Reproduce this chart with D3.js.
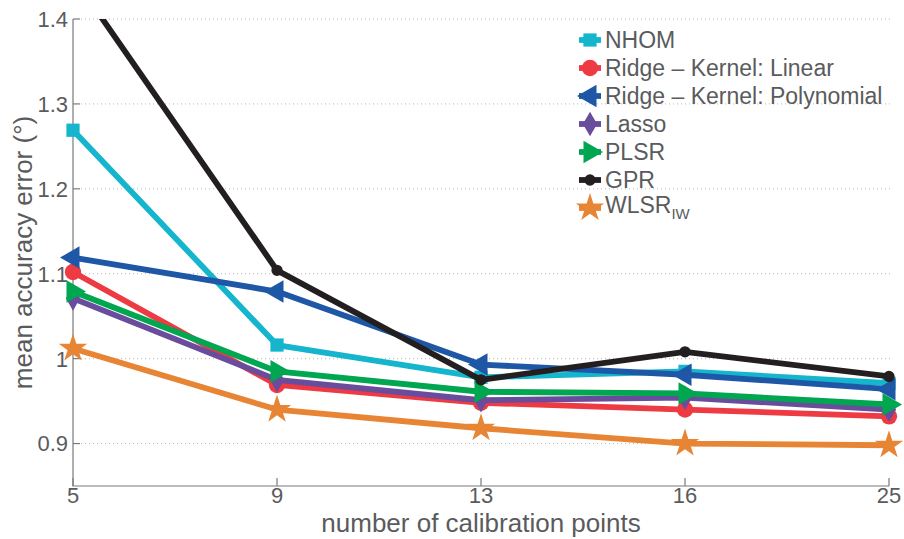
<!DOCTYPE html>
<html>
<head>
<meta charset="utf-8">
<script src="https://cdn.jsdelivr.net/npm/d3@7"></script>
<style>
  body { margin: 0; background: #fff; }
  svg { font-family: "Liberation Sans", Arial, Helvetica, sans-serif; }
  .tick-label { fill: #5a5b5d; font-size: 22px; }
  .axis-title { fill: #5a5b5d; font-size: 26px; }
  .legend-text { fill: #5a5b5d; font-size: 23px; }
  .grid-line { stroke: #b8b8b8; stroke-width: 1; stroke-dasharray: 1,3; }
  .axis-line { stroke: #7a7a7a; stroke-width: 1.2; fill: none; }
</style>
</head>
<body>
<div id="chart"></div>
<script>
// calibration point counts (categorical x axis)
const xLabels = ["5", "9", "13", "16", "25"];
const yTicks = [0.9, 1, 1.1, 1.2, 1.3, 1.4];

// mean accuracy error per method
const nhom        = [1.269, 1.016, 0.978, 0.985, 0.971];
const ridgeLinear = [1.102, 0.969, 0.948, 0.940, 0.932];
const ridgePoly   = [1.119, 1.079, 0.993, 0.981, 0.964];
const lasso       = [1.071, 0.975, 0.951, 0.954, 0.940];
const plsr        = [1.079, 0.985, 0.961, 0.959, 0.946];
const gpr         = [1.450, 1.104, 0.975, 1.008, 0.979];
const wlsr        = [1.012, 0.940, 0.918, 0.900, 0.898];

const seriesNames = ["NHOM", "Ridge \u2013 Kernel: Linear", "Ridge \u2013 Kernel: Polynomial", "Lasso", "PLSR", "GPR", "WLSR"];

const width = 904, height = 539;
const margin = { top: 19, right: 15, bottom: 53, left: 73 };

const series = [
    { name: seriesNames[0], values: nhom,        color: "#14b5cd", symbol: d3.symbolSquare,   size: 175, rotate: 0 },
    { name: seriesNames[1], values: ridgeLinear, color: "#ee3a42", symbol: d3.symbolCircle,   size: 210, rotate: 0 },
    { name: seriesNames[2], values: ridgePoly,   color: "#1f57a7", symbol: d3.symbolTriangle, size: 220, rotate: -90 },
    { name: seriesNames[3], values: lasso,       color: "#6a4c9d", symbol: d3.symbolDiamond,  size: 175, rotate: 0 },
    { name: seriesNames[4], values: plsr,        color: "#00a650", symbol: d3.symbolTriangle, size: 220, rotate: 90 },
    { name: seriesNames[5], values: gpr,         color: "#231f20", symbol: d3.symbolCircle,   size: 100, rotate: 0 },
    { name: seriesNames[6], values: wlsr,        color: "#e78534", symbol: d3.symbolStar,     size: 250, rotate: 0 }
];

const svg = d3.select("#chart").append("svg")
    .attr("width", width)
    .attr("height", height);

const x = d3.scalePoint()
    .domain(xLabels)
    .range([margin.left, width - margin.right])
    .padding(0);

const y = d3.scaleLinear()
    .domain([0.85, 1.4])
    .range([height - margin.bottom, margin.top]);

svg.append("defs").append("clipPath")
    .attr("id", "clip")
    .append("rect")
    .attr("x", 0)
    .attr("y", margin.top)
    .attr("width", width)
    .attr("height", height - margin.top);

// grid
svg.append("g").selectAll("line")
    .data(yTicks)
    .enter().append("line")
    .attr("class", "grid-line")
    .attr("x1", margin.left + 8)
    .attr("x2", width - margin.right + 3)
    .attr("y1", d => y(d))
    .attr("y2", d => y(d));

// axes
const yBottom = y.range()[0];
svg.append("path")
    .attr("class", "axis-line")
    .attr("d", "M" + margin.left + "," + margin.top + "V" + yBottom + "H" + (width - margin.right));

svg.append("g").selectAll("line")
    .data(yTicks)
    .enter().append("line")
    .attr("class", "axis-line")
    .attr("x1", margin.left)
    .attr("x2", margin.left + 7)
    .attr("y1", d => y(d))
    .attr("y2", d => y(d));

svg.append("g").selectAll("line")
    .data(xLabels)
    .enter().append("line")
    .attr("class", "axis-line")
    .attr("x1", d => x(d))
    .attr("x2", d => x(d))
    .attr("y1", yBottom)
    .attr("y2", yBottom - 8);

svg.append("g").selectAll("text")
    .data(yTicks)
    .enter().append("text")
    .attr("class", "tick-label")
    .attr("x", margin.left - 5)
    .attr("y", d => y(d))
    .attr("dy", "0.36em")
    .attr("text-anchor", "end")
    .text(d => String(d));

svg.append("g").selectAll("text")
    .data(xLabels)
    .enter().append("text")
    .attr("class", "tick-label")
    .attr("x", d => x(d))
    .attr("y", yBottom + 17)
    .attr("text-anchor", "middle")
    .text(d => d);

svg.append("text")
    .attr("class", "axis-title")
    .attr("x", (x.range()[0] + x.range()[1]) / 2)
    .attr("y", 532)
    .attr("text-anchor", "middle")
    .text("number of calibration points");

svg.append("text")
    .attr("class", "axis-title")
    .attr("text-anchor", "middle")
    .attr("transform", "translate(32," + (margin.top + yBottom) / 2 + ") rotate(-90)")
    .text("mean accuracy error (\u00b0)");

// lines + markers
const line = d3.line()
    .x((d, i) => x(xLabels[i]))
    .y(d => y(d));

const plot = svg.append("g").attr("clip-path", "url(#clip)");

series.forEach(s => {
    const g = plot.append("g");
    g.append("path")
        .attr("d", line(s.values))
        .attr("fill", "none")
        .attr("stroke", s.color)
        .attr("stroke-width", 5.8)
        .attr("stroke-linejoin", "round");
    g.selectAll("path.marker")
        .data(s.values)
        .enter().append("path")
        .attr("class", "marker")
        .attr("d", d3.symbol().type(s.symbol).size(s.size))
        .attr("transform", (d, i) => "translate(" + x(xLabels[i]) + "," + y(d) + ") rotate(" + s.rotate + ")")
        .attr("fill", s.color);
});

// legend
const legend = svg.append("g")
    .attr("transform", "translate(590,40)");

const items = legend.selectAll("g")
    .data(series)
    .enter().append("g")
    .attr("transform", (d, i) => "translate(0," + i * 28 + ")");

items.append("line")
    .attr("x1", -11)
    .attr("x2", 11)
    .attr("stroke", d => d.color)
    .attr("stroke-width", 5.8);

items.append("path")
    .attr("d", d => d3.symbol().type(d.symbol).size(d.size)())
    .attr("transform", d => "rotate(" + d.rotate + ")")
    .attr("fill", d => d.color);

items.append("text")
    .attr("class", "legend-text")
    .attr("x", 15)
    .attr("dy", (d, i) => i === 6 ? "0.2em" : "0.36em")
    .each(function(d, i) {
        const t = d3.select(this);
        t.append("tspan").text(d.name);
        if (i === 6) {
            t.append("tspan")
                .attr("dy", "0.45em")
                .style("font-size", "15px")
                .text("IW");
        }
    });
</script>
</body>
</html>
